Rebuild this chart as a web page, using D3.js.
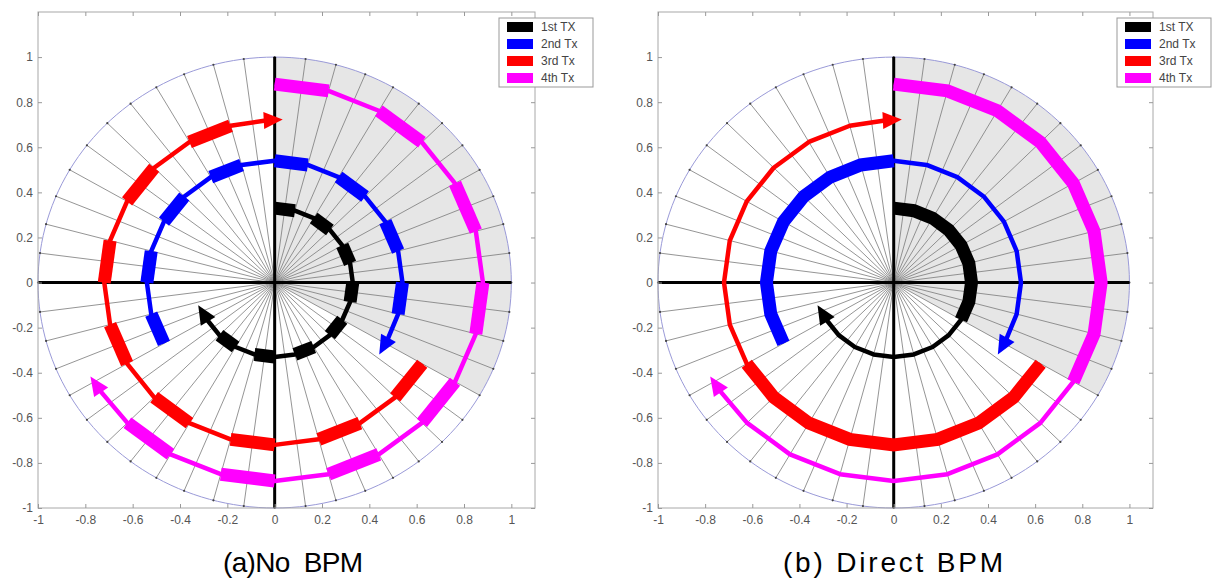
<!DOCTYPE html>
<html><head><meta charset="utf-8">
<script src="https://cdn.jsdelivr.net/npm/d3@7"></script>
<style>body{margin:0;background:#fff} svg{display:block}</style>
</head><body>
<svg id="chart" width="1212" height="580"></svg>
<script>
// ---- data ----
const seriesNames = ["1st TX", "2nd Tx", "3rd Tx", "4th Tx"];
const seriesColors = ["#000000", "#0000ff", "#ff0000", "#ff00ff"];
const seriesRadius = [0.33, 0.54, 0.72, 0.88];
const seriesStart = [90, 210, -30, 90];      // degrees, arcs run clockwise
const seriesEnd = [-150, -28, -267, -147];
// thick sections of each arc, panel (a) No BPM
const thickNoBPM = [
  [[90,75],[60,45],[30,15],[0,-15],[-30,-45],[-60,-75],[-90,-105],[-120,-135]],
  [[210,195],[180,165],[150,135],[120,105],[90,75],[60,45],[30,15],[0,-15]],
  [[-30,-45],[-60,-75],[-90,-105],[-120,-135],[-150,-165],[-180,-195],[-210,-225],[-240,-255]],
  [[90,75],[60,45],[30,15],[0,-15],[-30,-45],[-60,-75],[-90,-105],[-120,-135]]
];
// thick sections, panel (b) Direct BPM
const thickDirectBPM = [
  [[90,-30]],
  [[210,90]],
  [[-30,-150]],
  [[90,-30]]
];
const shadedSector = [90, -30];
const spokeStepDeg = 7.5;
const xTicks = [-1,-0.8,-0.6,-0.4,-0.2,0,0.2,0.4,0.6,0.8,1];
const xTickLabels = ["-1","-0.8","-0.6","-0.4","-0.2","0","0.2","0.4","0.6","0.8","1"];
const yTicks = [-1,-0.8,-0.6,-0.4,-0.2,0,0.2,0.4,0.6,0.8,1];
const yTickLabels = ["-1","-0.8","-0.6","-0.4","-0.2","0","0.2","0.4","0.6","0.8","1"];
const panelTitles = ["(a)No  BPM", "(b) Direct BPM"];

// ---- layout ----
const panels = [
  {left: 38, right: 535, top: 12, bottom: 508, thick: thickNoBPM, title: panelTitles[0], tx: 223, tw: 140},
  {left: 658, right: 1153, top: 12, bottom: 508, thick: thickDirectBPM, title: panelTitles[1], tx: 783, tw: 220}
];
const svg = d3.select("#chart");
const rad = d => d * Math.PI / 180;

function arcAngles(a0, a1) {
  const out = [a0];
  const dir = a1 < a0 ? -1 : 1;
  let k = dir < 0 ? Math.floor(a0 / 15) * 15 : Math.ceil(a0 / 15) * 15;
  if (k === a0) k += dir * 15;
  while ((dir < 0 && k > a1) || (dir > 0 && k < a1)) { out.push(k); k += dir * 15; }
  out.push(a1);
  return out;
}

panels.forEach(p => {
  const x = d3.scaleLinear().domain([-1, 1.1]).range([p.left, p.right]);
  const y = d3.scaleLinear().domain([-1, 1.2]).range([p.bottom, p.top]);
  const g = svg.append("g");
  const line = d3.line().x(d => x(d[0])).y(d => y(d[1]));
  const polar = (r, a) => [r * Math.cos(rad(a)), r * Math.sin(rad(a))];

  // shaded wedge
  const wedge = [[0,0]].concat(d3.range(shadedSector[0], shadedSector[1] - 0.01, -1).map(a => polar(1, a))).concat([[0,0]]);
  g.append("path").attr("d", line(wedge)).attr("fill", "#e6e6e6").attr("stroke", "none");

  // spokes
  const spokes = d3.range(0, 360, spokeStepDeg);
  g.selectAll(".spoke").data(spokes).join("line")
    .attr("x1", x(0)).attr("y1", y(0))
    .attr("x2", a => x(Math.cos(rad(a)))).attr("y2", a => y(Math.sin(rad(a))))
    .attr("stroke", "#7a7a7a").attr("stroke-width", 0.8);

  // unit circle
  const circ = d3.range(0, 361, 2).map(a => polar(1, a));
  g.append("path").attr("d", line(circ)).attr("fill", "none").attr("stroke", "#9a9ad8").attr("stroke-width", 1);
  g.selectAll(".dot").data(spokes).join("circle")
    .attr("cx", a => x(Math.cos(rad(a)))).attr("cy", a => y(Math.sin(rad(a))))
    .attr("r", 1.1).attr("fill", "#444");

  // thick axes cross
  g.append("line").attr("x1", x(-1)).attr("x2", x(1)).attr("y1", y(0)).attr("y2", y(0))
    .attr("stroke", "#000").attr("stroke-width", 3);
  g.append("line").attr("x1", x(0)).attr("x2", x(0)).attr("y1", y(-1)).attr("y2", y(1))
    .attr("stroke", "#000").attr("stroke-width", 3);

  // box
  g.append("rect").attr("x", p.left).attr("y", p.top).attr("width", p.right - p.left).attr("height", p.bottom - p.top)
    .attr("fill", "none").attr("stroke", "#a8a8a8").attr("stroke-width", 1);

  // axes
  const axL = d3.axisLeft(y).tickValues(yTicks).tickFormat((d, i) => yTickLabels[i]).tickSizeInner(-4).tickSizeOuter(0).tickPadding(5);
  const axB = d3.axisBottom(x).tickValues(xTicks).tickFormat((d, i) => xTickLabels[i]).tickSizeInner(-4).tickSizeOuter(0).tickPadding(7);
  const axR = d3.axisRight(y).tickValues(yTicks).tickFormat("").tickSizeInner(-4).tickSizeOuter(0);
  const axT = d3.axisTop(x).tickValues(xTicks).tickFormat("").tickSizeInner(-4).tickSizeOuter(0);
  [[axL, `translate(${p.left},0)`], [axB, `translate(0,${p.bottom})`], [axR, `translate(${p.right},0)`], [axT, `translate(0,${p.top})`]]
    .forEach(([ax, tr]) => {
      const a = g.append("g").attr("transform", tr).call(ax);
      a.select(".domain").remove();
      a.selectAll("line").attr("stroke", "#999");
      a.selectAll("text").attr("fill", "#555").style("font", "12px 'Liberation Sans', Arial, sans-serif");
    });

  // arcs
  seriesNames.forEach((name, i) => {
    const r = seriesRadius[i];
    const pts = arcAngles(seriesStart[i], seriesEnd[i]).map(a => polar(r, a));
    g.append("path").attr("d", line(pts)).attr("fill", "none").attr("stroke", seriesColors[i])
      .attr("stroke-width", 4.5).attr("stroke-linejoin", "round");
    p.thick[i].forEach(seg => {
      const sp = arcAngles(seg[0], seg[1]).map(a => polar(r, a));
      g.append("path").attr("d", line(sp)).attr("fill", "none").attr("stroke", seriesColors[i])
        .attr("stroke-width", 13).attr("stroke-linejoin", "miter").attr("stroke-linecap", "butt");
    });
    // arrow head
    const E = rad(seriesEnd[i]);
    const sx = x(1) - x(0), sy = y(0) - y(1);
    const P = [x(r * Math.cos(E)), y(r * Math.sin(E))];
    let u = [sx * r * Math.sin(E), sy * r * Math.cos(E)];
    const n0 = Math.hypot(u[0], u[1]); u = [u[0] / n0, u[1] / n0];
    const n = [-u[1], u[0]];
    const L = 17, W = 17;
    const B = [P[0] - u[0] * 2, P[1] - u[1] * 2];
    const tri = [[P[0] + u[0] * L, P[1] + u[1] * L], [B[0] + n[0] * W / 2, B[1] + n[1] * W / 2], [B[0] - n[0] * W / 2, B[1] - n[1] * W / 2]];
    g.append("path").attr("d", "M" + tri.map(t => t.join(",")).join("L") + "Z").attr("fill", seriesColors[i]);
  });

  // legend
  const lx = p.right - 36, ly = 18;
  const lg = g.append("g");
  lg.append("rect").attr("x", lx).attr("y", ly).attr("width", 94).attr("height", 69)
    .attr("fill", "#fff").attr("stroke", "#999").attr("stroke-width", 1);
  seriesNames.forEach((name, i) => {
    const cy = ly + 9 + i * 17;
    lg.append("rect").attr("x", lx + 8).attr("y", cy - 5).attr("width", 26).attr("height", 10).attr("fill", seriesColors[i]);
    lg.append("text").attr("x", lx + 42).attr("y", cy + 4).text(name)
      .attr("fill", "#444").style("font", "12px 'Liberation Sans', Arial, sans-serif");
  });

  // title
  svg.append("text").attr("x", p.tx).attr("y", 572).text(p.title)
    .attr("textLength", p.tw).attr("lengthAdjust", "spacing")
    .style("white-space", "pre")
    .style("font", "28px 'Liberation Sans Narrow', 'Arial Narrow', sans-serif").attr("fill", "#000");
});
</script>
</body></html>
